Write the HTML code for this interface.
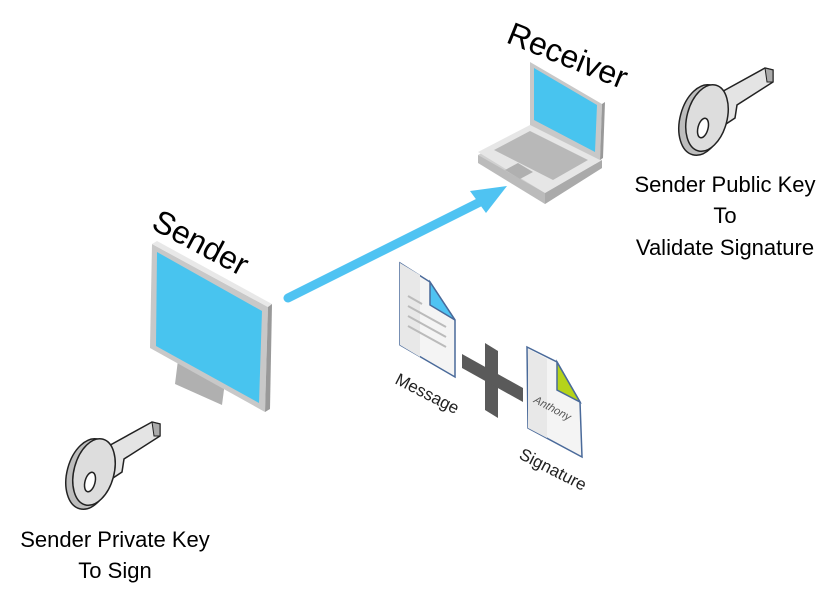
<!DOCTYPE html>
<html><head><style>body{margin:0;background:#fff}svg{display:block}text{font-family:"Liberation Sans",sans-serif}</style></head>
<body>
<svg width="834" height="604" viewBox="0 0 834 604">
<defs>
<g id="key">
  <path d="M30 40 L88 8 L96 10 L96 22 L60 45 L58 58 L40 70 Z" fill="#e4e4e4" stroke="#222" stroke-width="1.5"/>
  <path d="M88 8 L96 10 L96 22 L90 22 Z" fill="#aaa" stroke="#222" stroke-width="1"/>
  <ellipse cx="25" cy="60" rx="22" ry="36" transform="rotate(15 25 60)" fill="#bdbdbd" stroke="#222" stroke-width="1.5"/>
  <ellipse cx="30" cy="58" rx="20" ry="34" transform="rotate(15 30 58)" fill="#ddd" stroke="#222" stroke-width="1.5"/>
  <ellipse cx="26" cy="68" rx="5" ry="10" transform="rotate(15 26 68)" fill="#fff" stroke="#222" stroke-width="1.5"/>
</g>
</defs>
<!-- arrow -->
<line x1="288" y1="298" x2="488" y2="198" stroke="#4fc3f2" stroke-width="9" stroke-linecap="round"/>
<polygon points="507,186 470,191 486,213" fill="#4fc3f2"/>
<!-- monitor -->
<polygon points="178,360 225,382 222,405 175,384" fill="#b0b0b0"/>
<polygon points="152,244 268,307 265,412 150,348" fill="#c8c8c8"/>
<polygon points="152,244 268,307 272,304 157,241" fill="#e8e8e8"/>
<polygon points="268,307 272,304 270,409 265,412" fill="#999"/>
<polygon points="157,252 262,311 259,403 156,346" fill="#48c4ef"/>
<text x="0" y="0" font-size="32" transform="translate(150,228) rotate(28)">Sender</text>
<!-- laptop -->
<polygon points="478,155 530,127 602,168 545,204 " fill="#d0d0d0"/>
<polygon points="478,155 545,193 545,204 478,163" fill="#bbb"/>
<polygon points="545,193 602,160 602,168 545,204" fill="#aaa"/>
<polygon points="478,152 530,125 602,160 545,193" fill="#e6e6e6"/>
<polygon points="494,150 530,131 588,160 553,180" fill="#b8b8b8"/>
<polygon points="505,170 518,163 533,172 520,179" fill="#b0b0b0"/>
<polygon points="530,62 602,104 600,160 530,125" fill="#c8c8c8"/>
<polygon points="602,104 605,102 603,158 600,160" fill="#999"/>
<polygon points="534,68 597,105 595,152 534,120" fill="#48c4ef"/>
<text x="0" y="0" font-size="32" transform="translate(505,42) rotate(22)">Receiver</text>
<!-- keys -->
<use href="#key" transform="translate(677,60)"/>
<use href="#key" transform="translate(64,414)"/>
<g font-size="22" text-anchor="middle">
<text x="725" y="192">Sender Public Key</text>
<text x="725" y="223">To</text>
<text x="725" y="255">Validate Signature</text>
<text x="115" y="547">Sender Private Key</text>
<text x="115" y="578">To Sign</text>
</g>
<!-- message doc -->
<polygon points="400,263 430,282 455,320 455,377 400,345" fill="#f4f4f4" stroke="#4a6a9a" stroke-width="1.5"/>
<polygon points="400,263 420,275 420,357 400,345" fill="#e8e8e8"/>
<polygon points="430,282 455,320 430,305" fill="#4fc3f2" stroke="#4a6a9a" stroke-width="1.5"/>
<g stroke="#bbb" stroke-width="2"><line x1="408" y1="296" x2="422" y2="304"/><line x1="408" y1="306" x2="446" y2="327"/><line x1="408" y1="316" x2="446" y2="337"/><line x1="408" y1="326" x2="446" y2="347"/></g>
<!-- plus -->
<polygon points="485,343 498,351 498,418 485,410" fill="#5a5a5a"/>
<polygon points="462,354 523,388 523,402 462,368" fill="#5a5a5a"/>
<!-- signature doc -->
<polygon points="527,347 557,362 580,402 582,457 528,428" fill="#f4f4f4" stroke="#4a6a9a" stroke-width="1.5"/>
<polygon points="528,349 547,359 547,438 528,428" fill="#e8e8e8"/>
<polygon points="557,362 580,402 557,390" fill="#b5d31a" stroke="#4a6a9a" stroke-width="1.5"/>
<text x="0" y="0" font-size="11" font-style="italic" font-family="Liberation Serif,serif" fill="#555" transform="translate(533,402) rotate(28)">Anthony</text>
<text x="0" y="0" font-size="17" fill="#222" transform="translate(394,383) rotate(27)">Message</text>
<text x="0" y="0" font-size="17" fill="#222" transform="translate(518,458) rotate(27)">Signature</text>
</svg>
</body></html>
